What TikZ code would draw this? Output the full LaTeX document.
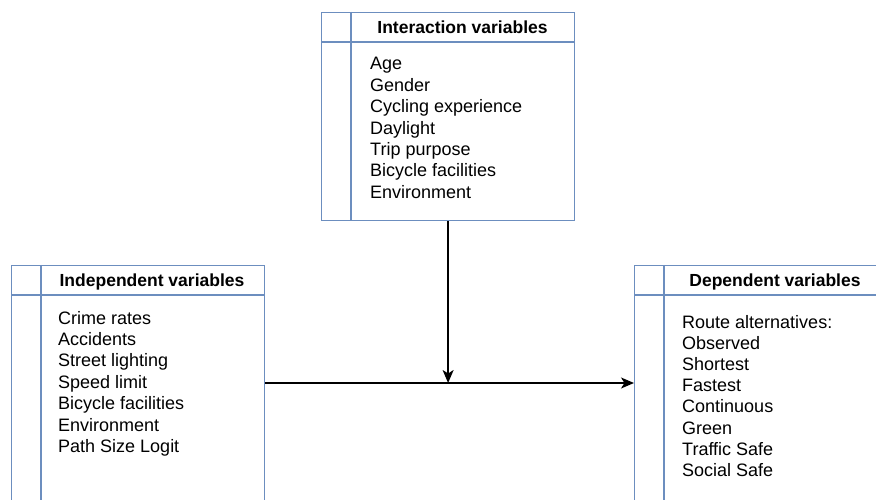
\documentclass[tikz,border=0pt]{standalone}
\usepackage{fontspec}
\setmainfont{Liberation Sans}
\usetikzlibrary{arrows.meta}
\definecolor{boxblue}{HTML}{6C8EBF}
\begin{document}
\begin{tikzpicture}[x=1pt,y=1pt,
  box/.style={draw=boxblue, line width=1.2pt, rectangle, inner sep=0pt, anchor=north west,
              minimum width=253pt},
  sep/.style={draw=boxblue, line width=1.2pt},
  hdr/.style={font=\fontsize{17.5}{21}\selectfont\bfseries, anchor=base, inner sep=0pt},
  body/.style={font=\fontsize{18}{21.4}\selectfont, align=left, anchor=base west, inner sep=0pt},
  link/.style={draw=black, line width=1.3pt, -{Stealth[length=13pt,width=11pt,inset=3.5pt]}}]
\useasboundingbox (0,0) rectangle (876,500);
\clip (0,0) rectangle (876,500);
% Interaction variables box
\node[box, minimum height=208pt] (inter) at (321,488) {};
\draw[sep] (321,458) -- (574,458);
\draw[sep] (351,488) -- (351,280);
\node[hdr] (interH) at (462.5,466.7) {Interaction variables};
% anchor base = baseline of the last line
\node[body] (interB) at (370,301.6) {Age\\Gender\\Cycling experience\\Daylight\\Trip purpose\\Bicycle facilities\\Environment};
% Independent variables box
\node[box, minimum height=280pt] (ind) at (11,235) {};
\draw[sep] (11,205) -- (264,205);
\draw[sep] (41,235) -- (41,-45);
\node[hdr] (indH) at (152,213.7) {Independent variables};
\node[body] (indB) at (58,47.4) {Crime rates\\Accidents\\Street lighting\\Speed limit\\Bicycle facilities\\Environment\\Path Size Logit};
% Dependent variables box
\node[box, minimum height=280pt] (dep) at (634,235) {};
\draw[sep] (634,205) -- (887,205);
\draw[sep] (664,235) -- (664,-45);
\node[hdr] (depH) at (775,213.7) {Dependent variables};
\node[body, font=\fontsize{18}{21.2}\selectfont] (depB) at (682,23.4) {Route alternatives:\\Observed\\Shortest\\Fastest\\Continuous\\Green\\Traffic Safe\\Social Safe};
% connectors
\coordinate (join) at (inter.south |- 0,117);
\draw[link] (ind.east |- join) -- (dep.west |- join);
\draw[link] (inter.south) -- (join);
\end{tikzpicture}
\end{document}
